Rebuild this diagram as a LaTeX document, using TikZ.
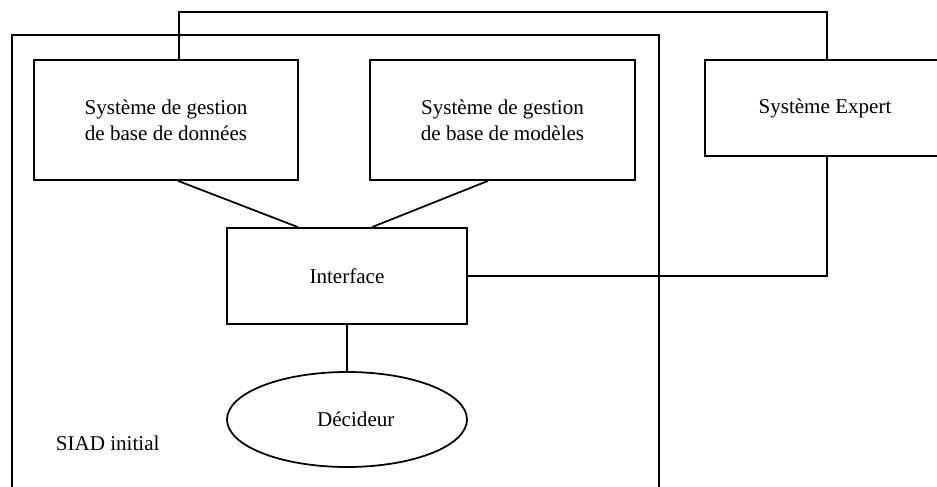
\documentclass[tikz,border=0pt]{standalone}
\usepackage{fontspec}
\setmainfont{Liberation Serif}
\usetikzlibrary{shapes.geometric}

\begin{document}
\begin{tikzpicture}[x=0.02cm,y=-0.02cm,line width=1pt,
  boite/.style={draw,rectangle,inner sep=0pt,align=center,font=\fontsize{12}{15}\selectfont},
  texte/.style={inner sep=0pt,font=\fontsize{12}{15}\selectfont}]

\def\px{0.02cm}

\useasboundingbox (0,0) rectangle (937,487);
\clip (0,0) rectangle (937,487);

% cadre du SIAD initial
\draw (12,35) rectangle (659,520);

\node[boite,minimum width=264*\px,minimum height=120*\px] (sgbd) at (166,120) {Système de gestion\\de base de données};
\node[boite,minimum width=265*\px,minimum height=120*\px] (sgbm) at (502.5,120) {Système de gestion\\de base de modèles};
\node[boite,minimum width=240*\px,minimum height=96*\px] (expert) at (825,108) {Système Expert};
\node[boite,minimum width=240*\px,minimum height=96*\px] (interface) at (347,276) {Interface};
\node[draw,ellipse,inner sep=0pt,minimum width=240*\px,minimum height=95*\px,font=\fontsize{12}{15}\selectfont] (decideur) at (347,419.5) {\hspace*{10pt}Décideur};

\node[texte,anchor=west] (siad) at (55,443) {SIAD initial};

\coordinate (haut) at (0,12);

\draw ([xshift=12*\px]sgbd.south) -- ([xshift=-49*\px]interface.north);
\draw ([xshift=-14.5*\px]sgbm.south) -- ([xshift=25*\px]interface.north);
\draw (interface.south) -- (decideur.north);
\draw ([xshift=13*\px]sgbd.north) -- ([xshift=13*\px]sgbd.north |- haut) -| ([xshift=2*\px]expert.north);
\draw (interface.east) -| ([xshift=2*\px]expert.south);
%\draw (siad) -- (decideur);

\end{tikzpicture}
\end{document}
